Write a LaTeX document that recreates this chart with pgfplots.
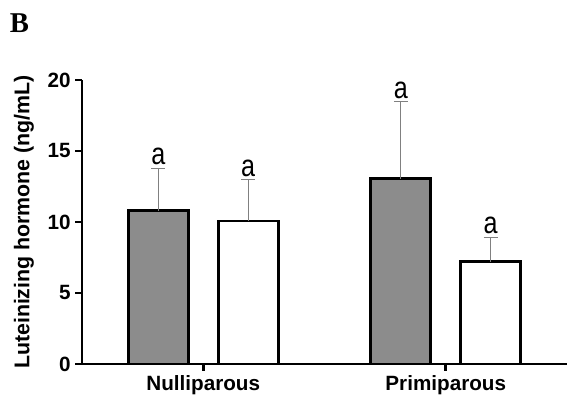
\documentclass[border=0pt]{standalone}
\usepackage{graphicx}
\usepackage{pgfplots}
\pgfplotsset{compat=1.18}
\usepackage{fontspec}
\setmainfont{Liberation Sans}
\newfontfamily\serifbf{Liberation Serif}
\definecolor{barg}{RGB}{140,140,140}
\definecolor{errg}{RGB}{128,128,128}
\newcommand{\siglab}{\scalebox{0.82}[1]{\fontsize{23}{23}\selectfont a}}
\begin{document}
\begin{tikzpicture}
\useasboundingbox (0,0) rectangle (426.75pt,298.5pt);
\node[font=\serifbf\bfseries\fontsize{21.5}{21.5}\selectfont, inner sep=0pt] at (14.6pt,281pt) {B};
\begin{axis}[
  at={(61.5pt,25.5pt)}, anchor=south west,
  width=363.75pt, height=213pt, scale only axis,
  xmin=-0.5, xmax=1.5, ymin=0, ymax=20,
  axis x line=bottom, axis y line=left, axis line style={-, line width=1.9pt},
  xtick={0,1}, xticklabels={Nulliparous,Primiparous},
  ytick={0,5,10,15,20},
  tick align=outside, major tick length=5pt,
  tick style={black, line width=1.9pt},
  /pgf/number format/assume math mode=true,
  tick label style={font=\bfseries\fontsize{15.5}{16}\selectfont},
  ylabel={Luteinizing hormone (ng/mL)},
  ylabel style={font=\bfseries\fontsize{16}{16}\selectfont, at={(axis description cs:-0.1196,0.5)}, anchor=center},
  clip=false,
]
\addplot[ybar, bar width=0.247, bar shift=0pt, fill=barg, draw=black, line width=2.2pt,
  error bars/.cd, y dir=plus, y explicit,
  error bar style={errg, line width=0.75pt},
  error mark options={rotate=90, mark size=5.25pt, errg, line width=0.75pt}]
  coordinates {(-0.185,10.80) +- (0,2.98) (0.815,13.03) +- (0,5.44)};
\addplot[ybar, bar width=0.247, bar shift=0pt, fill=white, draw=black, line width=2.2pt,
  error bars/.cd, y dir=plus, y explicit,
  error bar style={errg, line width=0.75pt},
  error mark options={rotate=90, mark size=5.25pt, errg, line width=0.75pt}]
  coordinates {(0.185,10.07) +- (0,2.89) (1.185,7.20) +- (0,1.72)};
\node[anchor=base, inner sep=0pt, yshift=2.5pt] at (axis cs:-0.185,13.78) {\siglab};
\node[anchor=base, inner sep=0pt, yshift=2.5pt] at (axis cs:0.185,12.96) {\siglab};
\node[anchor=base, inner sep=0pt, yshift=2.5pt] at (axis cs:0.815,18.47) {\siglab};
\node[anchor=base, inner sep=0pt, yshift=2.5pt] at (axis cs:1.185,8.92) {\siglab};
\end{axis}
\end{tikzpicture}
\end{document}
